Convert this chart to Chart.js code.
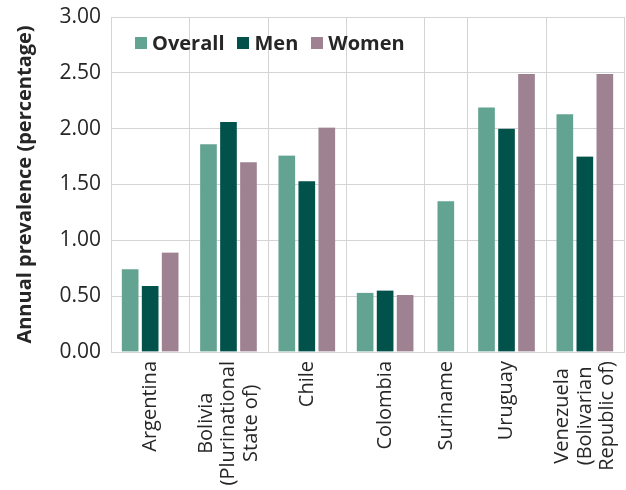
<!DOCTYPE html>
<html>
<head>
<meta charset="utf-8">
<script src="https://cdn.jsdelivr.net/npm/chart.js@4.4.1/dist/chart.umd.min.js"></script>
<style>
  body { margin: 0; background: #fff; }
  #wrap { position: relative; width: 626px; height: 490px; }
  #legenda { position: absolute; left: 135px; top: 28px; display: flex; font: bold 20px "Open Sans", sans-serif; color: #262626; line-height: 30px; }
  #legenda .item { display: flex; align-items: center; margin-right: 13px; }
  #legenda i { display: inline-block; width: 12px; height: 12px; margin-right: 5px; }
</style>
</head>
<body>
<div id="wrap">
  <canvas id="grafico" width="626" height="490"></canvas>
  <div id="legenda"></div>
</div>
<script>
// DADOS DO GRAFICO
const paises = ['Argentina', ['Bolivia', '(Plurinational', 'State of)'], 'Chile', 'Colombia', 'Suriname', 'Uruguay', ['Venezuela', '(Bolivarian', 'Republic of)']];
const geral = [0.74, 1.86, 1.76, 0.53, 1.35, 2.19, 2.13];
const homens = [0.59, 2.06, 1.53, 0.55, null, 2.00, 1.75];
const mulheres = [0.89, 1.70, 2.01, 0.51, null, 2.49, 2.49];
const ticksY = [0, 0.5, 1, 1.5, 2, 2.5, 3];

// ESTILO
const fonte = '"Open Sans", sans-serif';
const corTexto = '#262626';
const corGrade = '#d4d4d4';
const cores = ['#62a391', '#00524a', '#9e8292'];
// largura relativa de cada categoria (Suriname ocupa menos espaco)
const larguras = [1, 1, 1, 1, 0.55, 1, 1];
const totalLarg = larguras.reduce((a, b) => a + b, 0);

// eixo de categorias com larguras diferentes
class CategoriaPonderada extends Chart.CategoryScale {
  getPixelForValue(value) {
    if (typeof value !== 'number') value = this.parse(value);
    if (value === null || isNaN(value)) return NaN;
    let ini = 0;
    for (let i = 0; i < value; i++) ini += larguras[i];
    return this.getPixelForDecimal((ini + larguras[value] / 2) / totalLarg);
  }
  _computeLabelItems(chartArea) {
    const items = super._computeLabelItems(chartArea);
    const ctx = this.ctx;
    items.forEach(function (item) {
      const linhas = Array.isArray(item.label) ? item.label : [item.label];
      ctx.save();
      ctx.font = item.font.string;
      const maior = Math.max.apply(null, linhas.map(l => ctx.measureText(l).width));
      ctx.restore();
      const lh = item.font.lineHeight;
      const t = item.options.translation;
      item.options.translation = [t[0] - (linhas.length - 1) * lh / 2, t[1] + maior / 2];
      item.options.textAlign = 'center';
    });
    return items;
  }
}
CategoriaPonderada.id = 'categoriaPonderada';
Chart.register(CategoriaPonderada);

// linhas verticais entre as categorias
const linhasCategoria = {
  id: 'linhasCategoria',
  beforeDatasetsDraw(chart) {
    const x = chart.scales.x;
    const area = chart.chartArea;
    const ctx = chart.ctx;
    let acc = 0;
    ctx.save();
    ctx.strokeStyle = corGrade;
    ctx.lineWidth = 1;
    for (let i = 0; i <= larguras.length; i++) {
      const px = Math.round(x.getPixelForDecimal(acc / totalLarg)) + 0.5;
      ctx.beginPath();
      ctx.moveTo(px, area.top);
      ctx.lineTo(px, area.bottom);
      ctx.stroke();
      acc += larguras[i] || 0;
    }
    ctx.restore();
  }
};

function serie(nome, valores, cor) {
  return {
    label: nome,
    data: valores,
    backgroundColor: cor,
    borderColor: 'rgba(0,0,0,0)',
    borderWidth: { left: 2, right: 2, top: 0, bottom: 0 },
    barThickness: 20,
    skipNull: true
  };
}

const grafico = new Chart(document.getElementById('grafico'), {
  type: 'bar',
  data: {
    labels: paises,
    datasets: [
      serie('Overall', geral, cores[0]),
      serie('Men', homens, cores[1]),
      serie('Women', mulheres, cores[2])
    ]
  },
  plugins: [linhasCategoria],
  options: {
    responsive: false,
    animation: false,
    devicePixelRatio: 1,
    events: [],
    layout: { padding: { top: 17, right: 2, bottom: 0, left: 0 } },
    plugins: {
      legend: { display: false },
      tooltip: { enabled: false }
    },
    scales: {
      x: {
        type: 'categoriaPonderada',
        offset: true,
        grid: { display: false, drawTicks: false },
        border: { color: corGrade },
        ticks: {
          minRotation: 90, maxRotation: 90, autoSkip: false, padding: 9,
          color: corTexto,
          font: { family: fonte, size: 20, lineHeight: 1.13 }
        },
        afterFit: function (s) { s.height = 138; s.paddingLeft = 0; s.paddingRight = 0; }
      },
      y: {
        min: 0,
        max: 3,
        afterBuildTicks: function (s) { s.ticks = ticksY.map(v => ({ value: v })); },
        grid: { color: corGrade, drawTicks: false },
        border: { color: corGrade },
        ticks: {
          padding: 10,
          color: corTexto,
          font: { family: fonte, size: 21 },
          callback: v => v.toFixed(2)
        },
        title: {
          display: true,
          text: 'Annual prevalence (percentage)',
          color: corTexto,
          font: { family: fonte, size: 20, weight: 'bold' },
          padding: { top: 13, bottom: 0 }
        },
        afterFit: function (s) { s.width = 111; s.paddingTop = 0; s.paddingBottom = 0; }
      }
    }
  }
});

// LEGENDA EM HTML DENTRO DA AREA DO GRAFICO
const legenda = document.getElementById('legenda');
grafico.data.datasets.forEach(function (ds) {
  const item = document.createElement('span');
  item.className = 'item';
  const q = document.createElement('i');
  q.style.background = ds.backgroundColor;
  item.appendChild(q);
  item.appendChild(document.createTextNode(ds.label));
  legenda.appendChild(item);
});
</script>
</body>
</html>
